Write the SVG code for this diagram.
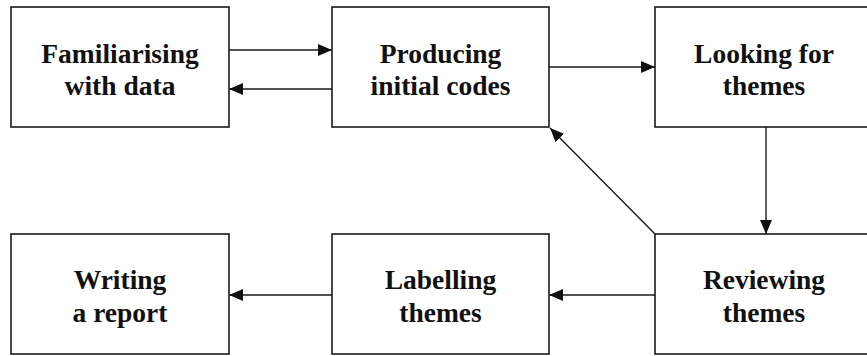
<svg xmlns="http://www.w3.org/2000/svg" width="867" height="356" viewBox="0 0 867 356">
<style>
.box{fill:#fff;stroke:#1a1a1a;stroke-width:1.6}
.lbl{font-family:"Liberation Serif","Times New Roman",serif;font-weight:bold;font-size:27.5px;fill:#111;text-anchor:middle}
.con{stroke:#1a1a1a;stroke-width:1.4;fill:none;marker-end:url(#ah)}
</style>
<defs>
<marker id="ah" markerUnits="userSpaceOnUse" markerWidth="14" markerHeight="12" viewBox="0 0 14 12" refX="14" refY="6" orient="auto">
<path d="M0,0 L14,6 L0,12 Z" fill="#111"/>
</marker>
</defs>
<rect width="867" height="356" fill="#fff"/>
<g id="connectors">
<line class="con" x1="229" y1="50" x2="332" y2="50"/>
<line class="con" x1="332" y1="89" x2="229" y2="89"/>
<line class="con" x1="549" y1="67" x2="655" y2="67"/>
<line class="con" x1="766" y1="127" x2="766" y2="234"/>
<line class="con" x1="655" y1="234" x2="550" y2="128"/>
<line class="con" x1="655" y1="295" x2="549" y2="295"/>
<line class="con" x1="332" y1="295" x2="229" y2="295"/>
</g>
<g id="n1">
<rect class="box" x="11" y="7" width="218" height="120"/>
<text class="lbl" x="120" y="63">Familiarising</text>
<text class="lbl" x="120" y="95">with data</text>
</g>
<g id="n2">
<rect class="box" x="332" y="7" width="217" height="120"/>
<text class="lbl" x="440.5" y="63">Producing</text>
<text class="lbl" x="440.5" y="95">initial codes</text>
</g>
<g id="n3">
<rect class="box" x="655" y="7" width="218" height="120"/>
<text class="lbl" x="764" y="63">Looking for</text>
<text class="lbl" x="764" y="95">themes</text>
</g>
<g id="n4">
<rect class="box" x="655" y="234" width="218" height="120"/>
<text class="lbl" x="764" y="289">Reviewing</text>
<text class="lbl" x="764" y="322">themes</text>
</g>
<g id="n5">
<rect class="box" x="332" y="234" width="217" height="120"/>
<text class="lbl" x="440.5" y="289">Labelling</text>
<text class="lbl" x="440.5" y="322">themes</text>
</g>
<g id="n6">
<rect class="box" x="11" y="234" width="218" height="120"/>
<text class="lbl" x="120" y="289">Writing</text>
<text class="lbl" x="120" y="322">a report</text>
</g>
</svg>
